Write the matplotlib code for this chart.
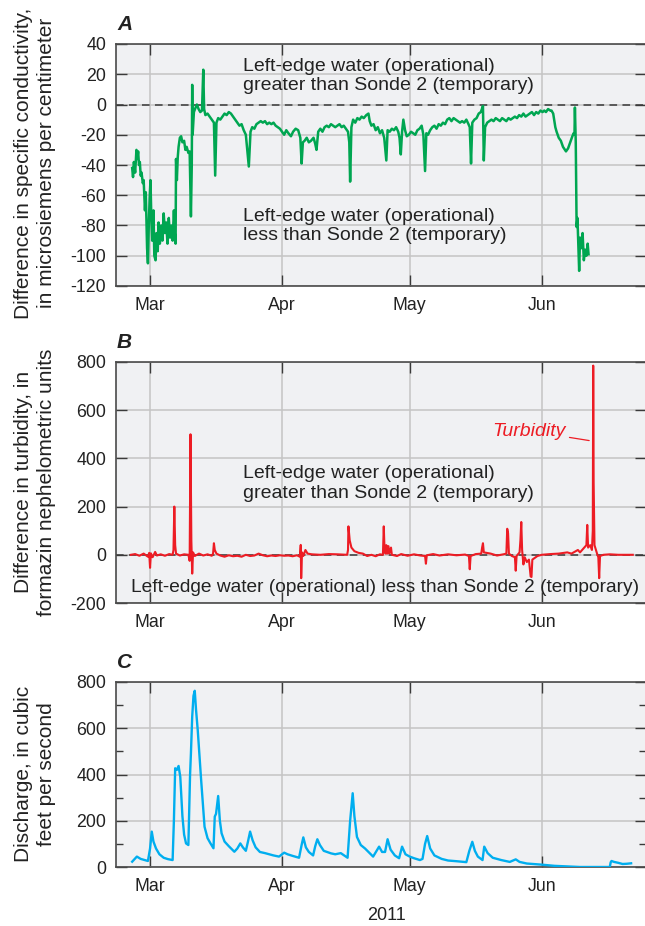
import numpy as np
import matplotlib
matplotlib.use("Agg")
import matplotlib.pyplot as plt
import matplotlib.dates as mdates
from matplotlib.ticker import MultipleLocator

plt.rcParams['font.family'] = ['Liberation Sans', 'DejaVu Sans']
plt.rcParams['axes.unicode_minus'] = False

# Time axis values are days elapsed since 2011-03-01 00:00
START = np.datetime64('2011-03-01T00:00')

# --- Panel A: specific conductance difference (microsiemens per centimeter)
cond_day = [-4.2, -4.0, -3.8, -3.5, -3.2, -3.0, -2.8, -2.6, -2.4, -2.2, -2.0, -1.7, -1.5, -1.2,
            -1.0, -0.7, -0.5, -0.3, -0.1, 0.1, 0.3, 0.5, 0.8, 1.0, 1.3, 1.5, 1.8, 2.0, 2.3, 2.6,
            2.9, 3.2, 3.5, 3.8, 4.1, 4.4, 4.7, 5.0, 5.3, 5.6, 5.8, 6.0, 6.1, 6.3, 6.5, 6.7, 7.0,
            7.3, 7.6, 8.0, 8.3, 8.6, 9.0, 9.3, 9.6, 9.8, 9.9, 10.0, 10.3, 10.7, 11.0, 11.4, 11.8,
            12.2, 12.5, 12.7, 13.0, 13.5, 14.0, 14.5, 15.0, 15.3, 15.6, 16.0, 16.5, 17.0, 17.5,
            18.0, 18.5, 19.0, 19.5, 20.0, 20.5, 21.0, 21.5, 22.0, 22.5, 23.2, 23.6, 24.0, 24.5,
            25.0, 25.5, 26.0, 26.5, 27.0, 27.5, 28.0, 28.5, 29.0, 29.5, 30.0, 30.5, 31.0, 31.5,
            32.0, 32.5, 33.1, 33.6, 34.2, 34.8, 35.3, 35.6, 35.9, 36.3, 36.8, 37.3, 37.8, 38.4,
            38.8, 39.1, 39.5, 40.0, 40.5, 41.0, 41.5, 42.0, 42.5, 43.0, 43.5, 44.0, 44.5, 45.0,
            45.5, 46.0, 46.5, 46.8, 47.0, 47.3, 47.7, 48.2, 48.7, 49.2, 49.7, 50.2, 50.8, 51.3,
            51.6, 52.0, 52.5, 53.0, 53.5, 54.0, 54.5, 55.0, 55.5, 55.8, 56.3, 56.8, 57.3, 57.8,
            58.3, 58.6, 58.9, 59.2, 59.5, 59.9, 60.3, 60.8, 61.3, 61.8, 62.3, 62.8, 63.3, 63.8,
            64.2, 64.6, 64.9, 65.3, 65.8, 66.3, 66.8, 67.3, 67.8, 68.3, 68.8, 69.3, 69.8, 70.3,
            70.8, 71.3, 71.8, 72.3, 72.8, 73.3, 73.8, 74.3, 74.8, 75.1, 75.4, 75.7, 76.2, 76.7,
            77.2, 77.7, 78.2, 78.4, 78.7, 79.2, 79.7, 80.2, 80.7, 81.2, 81.7, 82.2, 82.7, 83.2,
            83.7, 84.2, 84.7, 85.2, 85.7, 86.2, 86.7, 87.2, 87.7, 88.2, 88.7, 89.2, 89.7, 90.2,
            90.7, 91.2, 91.7, 92.2, 92.6, 93.0, 93.5, 94.0, 94.3, 94.7, 95.2, 95.5, 96.0, 96.5,
            97.0, 97.7, 98.2, 98.7, 99.2, 99.5, 99.7, 99.8, 100.0, 100.2, 100.4, 100.6, 100.8,
            101.0, 101.3, 101.6, 101.9, 102.2, 102.5, 102.8, 103.0]
cond_value = [-42, -48, -38, -45, -30, -36, -31, -40, -38, -47, -45, -52, -50, -70,
              -58, -95, -105, -80, -62, -50, -75, -90, -70, -100, -103, -85, -97, -78, -92, -80,
              -90, -72, -85, -78, -92, -75, -88, -80, -90, -70, -85, -92, -36, -50, -35, -28, -22,
              -21, -25, -24, -30, -28, -32, -31, -74, -40, 13, -20, -5, -2, 0, -3, -5,
              -4, 23, -3, -7, -6, -8, -10, -12, -47, -12, -9, -10, -8, -6,
              -7, -5, -6, -8, -10, -12, -14, -13, -17, -20, -41, -18, -15, -16,
              -13, -12, -11, -12, -11, -13, -12, -13, -12, -14, -15, -16, -18, -20,
              -17, -19, -21, -18, -16, -17, -22, -39, -25, -24, -22, -25, -24, -22,
              -26, -30, -18, -16, -18, -15, -14, -15, -13, -14, -15, -14, -13, -15,
              -14, -16, -18, -25, -51, -15, -10, -12, -9, -10, -8, -9, -7, -6,
              -11, -14, -13, -17, -15, -19, -17, -22, -37, -17, -18, -16, -17, -15,
              -18, -22, -33, -18, -10, -17, -21, -20, -18, -19, -20, -17, -16, -14,
              -20, -44, -19, -20, -17, -15, -14, -16, -13, -14, -12, -13, -10, -9,
              -11, -9, -10, -11, -12, -11, -12, -10, -13, -15, -39, -12, -10, -9,
              -6, -5, -1, -37, -15, -12, -11, -10, -11, -9, -10, -11, -9, -10,
              -11, -9, -10, -9, -8, -9, -7, -8, -6, -8, -7, -6, -5, -7,
              -5, -6, -4, -5, -4, -5, -3, -4, -4, -6, -15, -18, -22, -24,
              -28, -31, -29, -25, -21, -19, -20, -2, -25, -81, -75, -92, -110,
              -88, -95, -85, -103, -96, -100, -92, -99]

# --- Panel B: turbidity difference (formazin nephelometric units)
turb_day = [-4.5, -3.5, -2.5, -1.5, -0.5, -0.2, 0.0, 0.2, 0.6, 1.2, 1.6, 2.5, 3.5, 4.5, 5.3, 5.5,
            5.7, 5.9, 6.1, 7.0, 8.0, 9.0, 9.3, 9.5, 9.7, 9.9, 10.1, 10.5, 11.5, 12.5, 13.5, 14.5,
            14.8, 15.0, 15.2, 15.6, 16.5, 17.5, 18.5, 19.5, 20.5, 21.5, 22.5, 23.5, 24.5, 25.5,
            26.5, 27.5, 28.5, 29.5, 30.5, 31.5, 32.5, 33.5, 34.5, 35.2, 35.4, 35.5, 35.7, 36.0,
            36.5, 37.0, 38.0, 40.0, 42.0, 44.0, 46.3, 46.5, 46.6, 46.9, 47.3, 48.0, 49.0, 50.0,
            51.0, 52.0, 53.0, 54.0, 54.7, 54.9, 55.1, 55.2, 55.35, 55.5, 55.7, 56.0, 56.2, 56.6,
            56.8, 58.0, 59.0, 60.5, 62.0, 63.5, 64.6, 64.8, 65.0, 66.5, 68.0, 70.0, 72.0, 74.0,
            74.9, 75.1, 75.3, 76.5, 77.8, 78.0, 78.2, 78.4, 80.0, 81.5, 83.0, 83.7, 83.9, 84.1,
            84.3, 85.0, 85.7, 85.9, 86.1, 86.8, 87.0, 87.2, 87.4, 87.7, 88.0, 88.5, 89.0, 89.4,
            89.6, 89.8, 90.2, 91.0, 92.0, 94.0, 96.0, 98.0, 99.0, 100.5, 101.0, 102.0, 102.5,
            102.7, 102.9, 103.4, 103.8, 104.0, 104.1, 104.2, 104.4, 105.0, 105.3, 105.5, 105.7,
            106.5, 108.0, 110.0, 113.4]
turb_value = [0, 3, -4, 5, -8, 8, -54, 6, -10, 12, -3, 2, -4, 3, 0, 20,
              200, 40, 5, -3, 2, 0, -25, 500, 60, -78, 10, -5, 5, -3, 2, -4,
              5, 48, 20, 5, -3, -8, -2, -6, -4, -8, 0, -5, -3, 5,
              -2, -6, -3, -5, -2, -4, -3, -6, -2, -8, 41, -97, 10, -5,
              20, 5, 2, 0, 3, 2, 0, 20, 118, 60, 30, 15, 8, 5,
              -5, 0, -6, 2, 0, 118, 10, 37, 5, 40, 5, 36, 5, 30,
              0, -5, 3, -4, 2, -3, -5, -37, -2, 3, -3, 2, -2, 1,
              -5, -60, -5, 3, 5, 30, 48, 10, 5, -3, 2, 5, 108, 90,
              5, -5, -10, -66, -5, 10, 60, 136, 20, -40, -10, -30, -20, -90,
              -92, -20, -15, -5, 0, 3, 5, 10, 5, 20, 10, 30, 40,
              124, 30, 40, 20, 100, 785, 300, 40, 5, -10, -97, -5,
              0, 2, 0, 0]

# --- Panel C: discharge (cubic feet per second)
flow_day = [-4.2, -3.6, -3.1, -2.2, -1.3, -0.5, 0.0, 0.4, 0.8, 1.4, 2.2, 3.2, 4.2, 5.3, 5.6, 5.9,
            6.3, 6.7, 7.1, 7.6, 8.0, 8.45, 9.0, 9.4, 9.6, 9.9, 10.2, 10.5, 10.8, 11.2, 12.0, 12.8,
            13.5, 14.2, 14.9, 15.2, 15.5, 16.0, 16.4, 16.8, 17.5, 18.5, 19.8, 20.5, 21.2, 21.8,
            22.5, 23.0, 23.5, 24.1, 24.8, 25.8, 27.0, 28.0, 29.0, 30.3, 31.0, 31.5, 32.3, 33.5,
            35.0, 35.6, 36.0, 36.6, 37.3, 38.3, 38.8, 39.3, 39.9, 40.8, 42.5, 43.5, 44.8, 46.4,
            47.0, 47.6, 48.0, 48.6, 49.5, 50.5, 52.4, 53.2, 53.8, 54.5, 55.2, 55.8, 56.5, 57.5,
            58.5, 59.2, 60.0, 61.0, 62.0, 63.4, 64.0, 64.6, 65.1, 65.8, 66.8, 68.5, 70.0, 72.0,
            74.3, 75.0, 75.7, 76.3, 77.0, 78.1, 78.5, 79.3, 80.5, 82.5, 84.5, 85.9, 86.8, 88.5,
            90.0, 92.1, 95.0, 98.6, 101.0, 108.0, 108.2, 108.4, 109.0, 110.0, 111.0, 112.0, 113.0]
flow_value = [23, 35, 45, 35, 30, 26, 80, 153, 110, 80, 55, 40, 34, 30, 200, 427,
              420, 437, 390, 220, 140, 102, 95, 400, 491, 650, 740, 762, 680, 592, 376, 174,
              125, 102, 81, 218, 230, 307, 200, 146, 110, 90, 66, 80, 102, 85,
              70, 110, 153, 115, 85, 65, 60, 55, 50, 45, 55, 62, 55, 48,
              40, 95, 128, 85, 65, 50, 90, 120, 95, 70, 59, 55, 60, 40,
              200, 319, 220, 130, 95, 80, 45, 70, 88, 65, 65, 120, 75, 50,
              38, 88, 55, 45, 38, 30, 35, 100, 134, 80, 50, 35, 28, 25,
              21, 70, 109, 70, 45, 30, 88, 60, 40, 30, 22, 33, 22, 15,
              13, 10, 5, 2, 0, 0, 20, 26, 22, 18, 13, 14, 16]

band_label = "Left-edge water (operational)\ngreater than Sonde 2 (temporary)"
less_label = "Left-edge water (operational)\nless than Sonde 2 (temporary)"
less_label_one_line = "Left-edge water (operational) less than Sonde 2 (temporary)"

GREEN = '#00A651'
RED = '#ED1C24'
BLUE = '#00AEEF'
PANEL_BG = '#F0F1F3'
GRID = '#C4C4C4'
DARK = '#3A3A3A'
TEXT = '#222222'


def to_time(days):
    minutes = np.round(np.asarray(days, dtype=float) * 1440).astype('int64')
    return START + minutes.astype('timedelta64[m]')


W, H = 645, 926
fig = plt.figure(figsize=(W / 100, H / 100), dpi=100)


def px_axes(left, top, right, bottom):
    return fig.add_axes([left / W, 1 - bottom / H, (right - left) / W, (bottom - top) / H])


def style(ax, ymin, ymax, ystep, minor=None):
    ax.set_facecolor(PANEL_BG)
    ax.set_xlim(np.datetime64('2011-02-21T00:00'), np.datetime64('2011-06-25T12:00'))
    ax.set_ylim(ymin, ymax)
    ax.yaxis.set_major_locator(MultipleLocator(ystep))
    if minor:
        ax.yaxis.set_minor_locator(MultipleLocator(minor))
        ax.tick_params(axis='y', which='minor', direction='in', left=True, right=True,
                       length=5, width=1, color=DARK)
    ax.xaxis.set_major_locator(mdates.MonthLocator())
    ax.xaxis.set_major_formatter(mdates.DateFormatter('%b'))
    ax.tick_params(axis='both', which='major', direction='in', top=True, right=True,
                   length=8, width=1, color=DARK, labelsize=12.8, labelcolor=TEXT)
    ax.tick_params(axis='x', pad=8)
    ax.tick_params(axis='y', pad=7)
    ax.grid(True, which='major', color=GRID, lw=1.1)
    ax.set_axisbelow(True)
    for s in ax.spines.values():
        s.set_color('#4A4A4A')
        s.set_linewidth(1.2)


# Panel A
axA = px_axes(116, 44, 646, 286)
style(axA, -120, 40, 20)
axA.axhline(0, color=DARK, lw=1.1, ls=(0, (5, 3.5)), zorder=1.5)
axA.plot(to_time(cond_day), cond_value, color=GREEN, lw=1.8, zorder=3)
axA.text(0.2396, 0.866, band_label, transform=axA.transAxes, fontsize=14, color=TEXT,
         ha='left', va='center', linespacing=1.15)
axA.text(0.2396, 0.246, less_label, transform=axA.transAxes, fontsize=14, color=TEXT,
         ha='left', va='center', linespacing=1.15)

# Panel B
axB = px_axes(116, 362, 646, 603)
style(axB, -200, 800, 200)
axB.axhline(0, color=DARK, lw=1.1, ls=(0, (5, 3.5)), zorder=1.5)
axB.plot(to_time(turb_day), turb_value, color=RED, lw=1.5, zorder=3)
axB.text(0.2396, 0.497, band_label, transform=axB.transAxes, fontsize=14, color=TEXT,
         ha='left', va='center', linespacing=1.2)
axB.text(0.0283, 0.064, less_label_one_line, transform=axB.transAxes, fontsize=13.8,
         color=TEXT, ha='left', va='center')
axB.annotate('Turbidity', xy=(to_time([103.15])[0], 474), xytext=(566, 926 - 431),
             textcoords='figure pixels',
             fontsize=14, style='italic', color=RED, ha='right', va='center',
             arrowprops=dict(arrowstyle='-', color=RED, lw=0.9, shrinkA=0.5, shrinkB=0))

# Panel C
axC = px_axes(116, 682, 646, 867)
style(axC, 0, 800, 200, minor=100)
axC.plot(to_time(flow_day), flow_value, color=BLUE, lw=1.7, zorder=3)

# Panel letters and axis titles
for letter, y in (('A', 25), ('B', 343), ('C', 663)):
    fig.text(117 / W, 1 - y / H, letter, fontsize=15, weight='bold', style='italic',
             ha='left', va='center', color=TEXT)

ylabels = (("Difference in specific conductivity,\nin microsiemens per centimeter", 163),
           ("Difference in turbidity, in\nformazin nephelometric units", 482),
           ("Discharge, in cubic\nfeet per second", 774))
for text, y in ylabels:
    fig.text(35 / W, 1 - y / H, text, rotation=90, fontsize=15, ha='center', va='center',
             multialignment='center', color=TEXT, linespacing=1.3)

fig.text(386 / W, 1 - 916 / H, '2011', fontsize=13, ha='center', va='center', color=TEXT)

fig.savefig('out.png', dpi=100, facecolor='white')
